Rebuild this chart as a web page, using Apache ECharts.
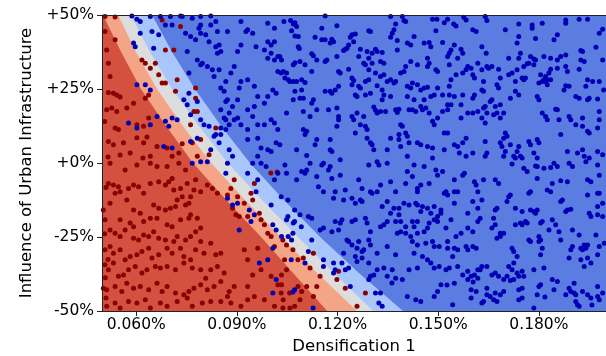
<!DOCTYPE html>
<html><head><meta charset="utf-8">
<script src="https://cdn.jsdelivr.net/npm/echarts@6/dist/echarts.min.js"></script>
<style>html,body{margin:0;padding:0;background:#fff}#c{width:606px;height:356px}</style>
</head><body><div id="c"></div>
<script>
// x values are "Densification 1" in thousandths of a percent (62.4 -> 0.0624%)
const xTicks = [60, 90, 120, 150, 180];
const yTicks = [-50, -25, 0, 25, 50];
const yTickLabels = ['-50%', '-25%', '+0%', '+25%', '+50%'];
const xRange = [49.8, 200];
const yRange = [-50, 50];

// decision-region boundaries (x at each y level)
const boundY = [50, 37.5, 25, 12.5, 0, -12.5, -25, -37.5, -50];
const boundRedSalmon = [50.1, 55.5, 61.4, 68.9, 76.9, 86.8, 97.2, 107.0, 116.9];
const boundSalmonGrey = [54.6, 59.9, 66.2, 73.9, 82.3, 92.4, 103.1, 114.2, 125.8];
const boundGreyLightBlue = [58.4, 64.1, 70.7, 78.7, 87.3, 97.5, 108.2, 119.2, 130.6];
const boundLightBlueBlue = [64.7, 70.7, 77.5, 85.3, 93.9, 104.0, 114.8, 126.7, 139.5];

const redPoints = [
[50.7,49.5],[53.7,49.3],[50.7,44.4],[53.7,41.6],[51.2,38.2],[51.7,33.7],[52.2,29.2],[51.7,23.8],[53.2,23.6],[54.2,23.0],[55.2,22.3],[51.2,18.0],[52.7,18.6],[54.2,17.4],[57.2,18.6],[59.2,20.2],[53.7,11.8],[54.7,11.3],[51.7,7.3],[53.2,6.2],[56.2,6.8],[58.2,3.4],[62.2,6.8],[64.2,2.3],[66.2,5.6],[69.2,5.1],[70.7,2.3],[72.7,3.4],[73.7,6.5],[76.7,6.8],[78.2,2.3],[60.2,12.9],[62.2,12.4],[63.7,15.2],[62.7,21.9],[63.7,23.0],[61.7,34.8],[62.7,33.7],[64.2,32.0],[65.7,33.7],[66.7,29.8],[67.7,27.0],[68.7,27.0],[72.2,28.1],[71.7,24.2],[77.7,25.3],[77.7,21.9],[77.2,17.4],[78.2,17.4],[73.2,46.1],[67.7,48.3],[68.7,38.2],[71.2,38.2],[79.2,7.9],[81.7,2.8],[83.7,11.8],[76.2,12.9],
[60.2,8.5],[63.2,8.8],[51.6,2.0],[55.2,2.7],[62.0,1.7],[50.6,14.0],
[52.2,-0.1],[56.7,-2.4],[60.2,-0.7],[64.2,-0.1],[66.2,-1.2],[69.2,-1.2],[72.7,-0.1],[74.7,-2.4],[51.7,-6.9],[53.2,-7.4],[54.7,-8.0],[53.7,-10.2],[55.2,-9.7],[57.7,-8.6],[59.2,-7.4],[60.7,-8.0],[62.2,-10.2],[64.2,-6.9],[66.7,-6.3],[68.7,-7.4],[69.7,-6.3],[70.7,-5.2],[71.2,-9.1],[73.2,-8.6],[75.2,-6.9],[72.2,-12.5],[73.7,-11.4],[76.2,-11.4],[77.7,-5.7],[77.2,-9.1],[79.2,-9.7],[65.2,-14.2],[66.7,-15.3],[68.7,-15.9],[70.2,-15.3],[71.7,-14.7],[74.7,-14.2],[75.7,-13.6],[76.2,-17.5],[61.2,-17.0],[59.2,-15.9],[57.2,-12.5],[52.2,-13.6],[50.2,-15.9],[50.7,-19.2],[55.2,-19.2],[58.2,-20.3],[59.2,-21.5],[62.2,-19.8],[64.2,-18.7],[66.2,-18.7],[69.2,-20.9],[70.7,-21.5],[73.2,-19.2],[75.7,-18.7],[78.2,-18.7],[79.2,-22.0],[52.2,-22.6],[53.7,-23.7],[55.2,-24.8],[56.7,-22.6],[59.2,-25.4],[60.7,-26.0],[62.2,-24.3],[63.7,-24.8],[65.2,-23.2],[66.7,-25.4],[68.7,-26.0],[71.2,-26.5],[72.2,-24.8],[74.7,-26.0],[76.2,-24.8],[77.7,-23.2],[79.2,-26.5],[50.7,-29.3],[52.2,-28.2],[53.2,-30.5],[55.2,-29.3],[56.7,-32.7],[58.2,-31.6],[60.2,-31.0],[61.7,-29.9],[63.7,-28.8],[64.7,-32.1],[66.7,-31.0],[69.2,-28.8],[70.7,-30.5],[73.2,-28.8],[74.2,-31.6],[76.2,-32.7],[77.7,-29.3],[80.2,-30.5],[82.2,-27.1],[83.7,-31.0],[85.2,-30.5],[50.7,-34.4],[51.7,-36.1],[53.2,-33.8],[54.7,-38.3],[56.2,-37.8],[57.7,-36.1],[59.7,-35.0],[61.7,-37.2],[63.2,-36.1],[65.7,-35.0],[67.2,-35.5],[69.2,-35.0],[71.7,-36.1],[74.2,-33.8],[76.7,-35.5],[79.2,-36.1],[80.7,-38.9],[82.2,-36.1],[84.2,-35.0],[86.2,-37.2],[50.2,-42.3],[51.2,-42.8],[53.7,-41.7],[55.7,-43.4],[57.2,-40.6],[59.2,-42.3],[61.2,-41.7],[63.7,-42.8],[66.2,-40.6],[67.7,-43.4],[69.2,-41.7],[71.7,-43.9],[74.2,-44.5],[75.7,-43.4],[77.2,-42.3],[79.2,-41.1],[81.2,-42.8],[83.2,-41.7],[85.2,-40.0],[87.7,-43.4],[89.2,-41.7],[51.2,-48.4],[53.7,-47.3],[55.2,-49.0],[57.7,-46.8],[60.2,-47.3],[62.7,-46.2],[64.2,-49.0],[67.2,-47.3],[69.2,-48.4],[72.2,-46.8],[75.2,-45.6],[76.7,-48.4],[79.7,-47.3],[82.2,-46.8],[85.2,-46.8],[88.2,-47.3],[91.2,-48.4],[93.2,-46.2],[95.2,-45.1],[98.2,-46.2],[101.2,-48.4],[103.7,-49.0],[107.2,-48.4],[87.2,-45.1],[93.2,-41.7],
[51.0,-8.3],[50.6,-23.9],[51.6,-32.6],[50.8,-38.8],[51.0,-45.6],
[81.2,-7.4],[82.7,-8.6],[84.2,-10.2],[87.2,-10.8],[88.2,-8.6],[89.2,-5.7],[90.2,-11.4],[92.2,-13.6],[94.2,-10.2],[95.2,-6.9],[96.7,-17.0],[97.2,-19.2],[98.2,-20.9],[96.2,-28.8],[99.2,-23.7],[100.2,-24.8],[101.2,-28.2],[103.7,-26.0],[106.7,-29.3],[108.2,-32.7],[104.2,-32.7],[92.2,-29.3],[93.2,-32.7],[94.7,-37.8],[97.2,-36.1],[100.2,-38.3],[102.2,-41.1],[103.2,-43.9],[105.7,-43.9],[108.2,-41.7],[94.7,-12.5],[89.7,-17.5],[90.7,-18.1],[88.7,-15.3],[93.2,-18.1],[102.0,-3.0],[100.1,-3.4],
[104.8,-27.7],[109.8,-32.1],[112.8,-30.5],[111.8,-35.5],[113.8,-41.7],[110.8,-41.7],[114.8,-38.3],[120.3,-36.6],[122.3,-42.3],[119.8,-39.4],[128.3,-43.9],[125.8,-48.4],[105.8,-49.0],[103.3,-41.1],[103.8,-46.2],[108.8,-46.2],[112.8,-45.1],[109.3,-43.4],[104.8,-36.1],[103.3,-37.8]
];

const bluePoints = [
[58.7,49.7],[60.2,48.6],[61.2,47.8],[64.2,49.5],[67.2,49.5],[70.2,49.5],[73.2,49.7],[59.2,40.5],[59.7,39.3],[61.2,43.8],[64.7,44.4],[65.2,38.8],[66.7,43.3],[68.7,46.6],[70.7,46.6],[60.2,26.4],[62.7,26.4],[64.2,24.7],[66.2,15.7],[68.7,14.1],[70.7,15.2],[72.2,14.6],[69.7,12.4],[70.7,5.1],[74.2,21.4],[75.7,23.6],[75.2,19.7],[76.2,16.3],[78.2,20.8],[79.2,14.6],[80.2,12.9],[81.7,12.4],[83.7,9.6],[85.2,11.8],[86.7,14.6],[86.7,11.3],[87.7,12.9],[89.2,14.6],[57.7,13.5],[60.2,11.8],[64.2,12.9],[68.2,5.6],[76.2,7.3],[78.2,8.4],
[73.7,49.5],[76.7,48.9],[79.2,49.5],[82.2,49.7],[83.7,47.8],[84.2,44.4],[87.2,44.4],[74.7,43.8],[76.2,42.7],[77.7,41.6],[79.2,43.8],[78.7,45.5],[80.7,43.3],[82.2,46.6],[79.2,46.6],[81.7,41.0],[83.7,39.3],[84.7,39.9],[85.2,37.7],[84.2,37.1],[79.7,33.7],[78.2,34.8],[79.2,33.2],[81.2,32.6],[82.7,31.5],[84.7,31.5],[88.2,30.4],[89.2,32.6],[90.2,37.7],[91.2,39.9],[92.7,44.4],[94.7,43.8],[95.7,39.3],[98.2,38.2],[99.2,35.4],[100.2,37.1],[101.2,34.8],[102.2,30.9],[102.2,36.0],[103.2,30.4],[99.2,41.0],[100.2,39.9],[101.2,41.0],[101.2,45.5],[99.2,47.2],[91.2,47.8],[93.2,45.0],[75.2,37.7],[75.7,30.4],[83.2,29.2],[85.2,25.3],[86.2,24.2],[86.7,27.5],[86.7,20.8],[88.7,19.1],[90.2,21.4],[90.7,25.3],[91.2,27.5],[93.2,28.1],[95.2,25.9],[96.2,22.5],[98.2,20.2],[99.2,22.5],[100.7,24.7],[101.7,23.6],[85.2,18.0],[86.2,15.2],[87.7,16.9],[87.2,21.4],[90.2,15.2],[91.2,12.9],[93.2,11.3],[94.7,15.7],[96.2,12.9],[98.2,12.9],[100.2,14.6],[101.2,13.5],[102.2,11.3],[93.2,7.9],[96.2,8.4],[97.2,5.1],[99.2,4.5],[100.2,3.9],[101.7,6.8],[96.2,2.3],[88.7,2.3],[87.7,4.5],[84.7,6.8],[85.2,9.6],[83.2,9.0],[82.2,4.5],[93.2,18.0],[95.2,19.1],
[76.7,-0.1],[79.2,0.4],[81.2,0.4],[86.7,-3.5],[87.2,-11.9],[88.7,-14.2],[90.2,-13.6],[93.7,-15.9],[95.2,-17.5],[94.2,-19.8],[95.7,-9.7],[96.2,-5.7],[100.2,-14.2],[100.7,-20.9],[101.7,-22.6],[107.2,-19.8],[106.7,-23.7],[105.2,-18.1],[101.2,-5.7],[103.2,-11.4],[105.2,-12.5],[107.2,-15.9],[109.2,-21.5],[90.7,-22.6],[99.2,-32.7],[100.7,-28.8],[96.7,-33.8],[106.2,-32.7],[101.7,-39.4],[100.7,-43.9],[107.2,-42.8],[93.2,-3.5],[94.7,-0.1],[97.2,-0.1],[98.7,-1.2],[87.2,-0.1],[102.2,-3.5],
[116.3,49.7],[135.8,49.5],[139.3,49.5],[139.8,48.1],[148.3,48.6],[149.6,48.6],[151.8,47.4],[152.8,48.6],[154.6,47.0],[155.3,46.3],[157.6,49.2],[158.3,48.3],[104.0,47.8],[106.0,48.1],[106.8,47.0],[107.3,47.4],[107.8,46.1],[106.3,44.7],[107.3,42.9],[108.3,42.7],[115.3,45.5],[119.8,46.4],[129.3,44.7],[129.8,44.4],[137.3,47.0],[136.8,45.0],[140.3,47.8],[149.3,44.7],[160.3,45.0],[161.3,44.4],[113.3,42.5],[115.3,41.6],[116.3,41.6],[117.8,40.5],[118.3,41.8],[118.8,41.0],[124.3,43.3],[125.3,43.6],[123.8,42.5],[124.8,41.0],[123.3,39.9],[122.8,38.8],[122.3,38.4],[121.8,38.0],[126.8,38.4],[128.8,37.7],[131.3,38.4],[133.3,37.3],[136.3,43.8],[135.8,42.5],[137.8,41.4],[137.8,38.2],[140.8,40.5],[141.8,39.9],[142.8,42.7],[145.8,40.5],[147.3,40.7],[147.8,39.3],[151.3,40.7],[153.8,38.2],[153.3,37.1],[156.8,38.4],[157.3,37.1],[154.8,39.9],[108.3,39.3],[108.6,38.7],[112.3,36.9],[112.8,36.2],[116.8,34.8],[119.8,36.0],[126.3,36.0],[129.3,35.4],[130.3,37.1],[131.8,37.7],[132.8,34.3],[133.8,33.7],[102.8,36.0],[103.3,34.8],[103.8,30.9],[104.8,30.4],[107.3,33.9],[106.8,33.2],[108.8,34.3],[110.3,33.2],[112.3,30.9],[113.8,34.8],[116.3,34.3],[120.3,30.9],[120.8,30.4],[123.3,31.7],[124.3,28.7],[124.8,27.9],[127.8,33.7],[128.3,33.2],[129.3,31.5],[130.3,33.7],[131.3,30.4],[132.8,29.2],[133.8,29.8],[134.8,27.5],[135.8,28.1],[136.8,27.0],[138.8,30.4],[139.8,30.9],[140.3,32.6],[141.8,34.3],[143.8,33.2],[146.8,32.6],[147.3,33.7],[149.3,31.5],[149.8,30.9],[146.8,35.4],[152.8,36.0],[153.3,33.2],[155.8,35.4],[157.3,30.4],[158.3,31.5],[158.8,32.6],[159.8,32.0],[160.3,29.8],[160.8,28.7],[161.8,33.7],[155.3,29.8],[153.8,28.1],[153.3,25.9],[151.3,23.0],[149.8,25.3],[104.3,28.7],[105.3,28.1],[105.8,27.5],[106.8,27.5],[107.8,27.5],[109.3,28.1],[110.3,27.2],[107.3,24.2],[109.3,24.7],[108.8,21.9],[109.8,21.9],[106.8,21.4],[112.8,21.4],[112.3,20.2],[116.3,24.2],[117.8,24.2],[118.3,23.6],[119.3,24.7],[120.3,25.9],[124.3,26.4],[126.3,25.9],[126.8,25.3],[128.3,27.5],[129.3,28.1],[131.8,26.1],[133.3,24.7],[133.8,23.0],[133.3,21.4],[135.8,22.5],[137.3,27.5],[140.8,25.9],[141.8,25.3],[142.3,27.0],[143.8,26.4],[144.8,24.7],[145.8,25.3],[146.8,25.6],[147.8,22.5],[148.8,23.0],[152.8,19.7],[153.3,23.0],[154.8,22.5],[157.3,23.0],[156.8,19.7],[160.3,21.9],[160.8,23.0],[128.3,23.0],[129.8,23.6],[125.3,23.0],[125.8,22.5],[140.8,22.5],[142.8,21.4],[144.8,19.1],[145.3,18.0],[142.3,18.0],[145.8,21.4],[104.8,16.9],[109.8,17.4],[111.8,15.7],[113.8,18.0],[117.3,18.0],[119.8,18.6],[120.3,15.7],[120.3,14.6],[124.3,15.7],[124.8,14.6],[125.8,16.9],[127.8,15.7],[128.3,12.4],[130.8,18.9],[131.3,17.8],[131.8,16.9],[132.8,17.4],[134.3,17.4],[137.3,18.0],[137.8,17.1],[138.3,18.2],[141.3,18.0],[143.3,17.4],[146.3,18.6],[147.3,16.9],[149.8,15.2],[151.3,17.4],[152.8,18.0],[153.8,19.7],[156.8,15.2],[158.8,16.9],[160.3,16.9],[161.8,17.4],[148.3,14.1],[148.8,12.9],[138.8,12.9],[139.3,12.4],[126.8,12.9],[109.8,11.3],[110.8,10.7],[110.3,9.6],[119.8,12.4],[128.8,11.3],[138.3,9.6],[140.3,10.1],[140.8,9.0],[138.3,7.9],[135.8,8.4],[128.8,8.4],[129.8,6.8],[130.3,6.2],[125.3,10.1],[113.8,7.9],[113.3,6.2],[117.8,7.9],[102.8,6.2],[107.8,4.5],[117.8,4.5],[118.3,3.9],[130.8,4.5],[134.8,4.5],[138.8,5.6],[141.3,6.8],[143.8,6.8],[144.8,6.2],[146.8,5.6],[148.3,5.1],[151.8,10.1],[152.8,10.1],[151.8,4.5],[154.8,6.2],[155.8,5.6],[157.3,6.8],[158.3,8.4],[156.3,3.4],[158.3,2.3],[160.3,3.4],[148.3,1.7],[140.8,2.3],[120.8,1.1],[110.8,2.5],
[104.3,-0.7],[104.8,-3.5],[107.8,-5.7],[109.3,-2.9],[110.3,-3.5],[110.8,-2.4],[111.8,-0.1],[113.8,-4.6],[114.3,-8.0],[115.3,-0.7],[115.8,-0.1],[117.3,-2.4],[117.8,-1.2],[118.3,-5.2],[120.8,-4.1],[126.3,-5.7],[127.3,-8.6],[129.3,-0.7],[129.8,-9.7],[131.8,-9.7],[131.8,0.4],[132.3,-0.7],[132.8,-7.4],[134.8,-0.1],[135.8,-6.3],[137.3,-9.7],[140.3,-6.9],[140.8,-2.9],[142.3,-4.6],[142.8,-0.7],[143.8,-9.7],[143.8,-8.6],[144.8,-7.4],[145.8,-1.2],[147.3,-6.9],[149.3,-2.4],[149.8,-4.1],[151.3,-2.9],[152.3,-9.7],[151.8,-10.2],[152.8,-10.8],[154.8,-9.7],[154.8,-5.7],[157.3,-4.1],[157.8,-3.5],[160.8,-6.3],[161.3,-7.4],[161.8,-9.7],[115.8,-9.7],[118.8,-11.9],[119.3,-9.7],[121.8,-12.5],[122.3,-9.1],[124.3,-11.9],[125.3,-13.6],[126.8,-12.5],[127.3,-13.0],[130.3,-10.2],[133.3,-14.7],[134.8,-13.0],[136.8,-15.3],[138.3,-15.3],[139.8,-13.6],[141.3,-14.2],[143.3,-13.6],[143.8,-14.2],[144.8,-16.4],[145.3,-14.7],[146.8,-15.3],[147.8,-17.0],[148.8,-14.7],[149.8,-18.1],[150.8,-15.9],[150.8,-17.0],[153.8,-19.2],[154.8,-13.6],[155.8,-9.7],[158.8,-17.0],[160.3,-13.0],[161.8,-15.3],[108.8,-17.5],[111.3,-18.1],[112.3,-18.7],[119.3,-19.8],[120.8,-20.3],[121.3,-19.2],[124.3,-19.8],[125.3,-19.2],[128.3,-18.7],[128.8,-20.3],[129.8,-23.2],[132.8,-21.5],[133.8,-20.9],[134.8,-19.8],[135.8,-17.0],[137.3,-19.8],[138.3,-17.5],[138.8,-19.8],[140.3,-21.5],[142.3,-19.8],[143.8,-19.8],[142.8,-21.5],[146.8,-22.0],[147.3,-20.3],[148.8,-19.2],[149.8,-19.8],[152.3,-22.0],[155.3,-24.8],[156.8,-23.7],[158.8,-22.0],[160.3,-23.2],[161.8,-19.8],[104.8,-19.2],[106.8,-20.3],[114.8,-22.6],[115.8,-22.0],[118.3,-23.2],[120.3,-22.6],[122.8,-26.0],[123.3,-26.5],[124.3,-27.7],[125.8,-28.8],[126.3,-26.5],[127.3,-29.9],[127.8,-29.3],[129.3,-26.0],[129.8,-27.7],[131.8,-30.5],[134.8,-28.2],[137.8,-23.7],[138.8,-23.2],[140.3,-23.7],[141.8,-24.8],[142.3,-26.5],[143.8,-23.7],[145.8,-23.2],[143.8,-27.7],[146.3,-27.1],[148.3,-26.5],[148.8,-28.2],[150.3,-28.2],[152.8,-26.5],[152.8,-28.8],[154.3,-31.6],[154.8,-28.8],[155.8,-29.3],[158.3,-28.2],[158.8,-29.3],[160.3,-28.2],[161.3,-28.8],[137.3,-31.0],[142.8,-30.5],[145.3,-31.6],[146.8,-32.7],[147.8,-33.8],[148.8,-35.5],[150.3,-35.0],[152.3,-36.1],[153.3,-35.5],[155.8,-35.0],[157.3,-37.8],[158.8,-36.6],[159.8,-38.3],[160.8,-37.8],[161.8,-36.1],[143.8,-35.5],[136.3,-36.1],[133.8,-35.5],[131.8,-36.1],[130.8,-37.8],[129.8,-38.3],[134.8,-38.3],[125.8,-33.3],[127.3,-32.1],[129.3,-33.8],[125.3,-31.6],[121.8,-30.5],[121.3,-33.8],[118.8,-33.8],[115.8,-32.7],[119.3,-36.1],[122.3,-36.1],[123.3,-35.5],[129.3,-39.4],[137.3,-38.9],[139.3,-39.4],[141.3,-36.1],[149.8,-43.4],[150.8,-41.1],[154.8,-40.6],[158.8,-39.4],[159.8,-42.8],[161.3,-43.4],[161.8,-38.9],[159.8,-45.6],[154.3,-47.9],[148.8,-45.1],[144.8,-46.8],[143.3,-46.2],[140.8,-45.1],[132.8,-43.9],[131.3,-43.9],[132.3,-47.3],[133.3,-48.4],[123.8,-41.7],[112.3,-26.0],[111.3,-29.9],[110.3,-33.8],[115.8,-35.0],[118.8,-37.2],[105.3,-24.8],[106.3,-26.0],[103.3,-24.8],
[106.7,-43.6],[112.7,-49.0],[136.2,-40.5],[152.6,-41.2],[160.4,-40.2],[181.8,-45.3],[195.8,-48.0],
[164.0,49.5],[164.5,48.1],[170.0,45.0],[174.0,47.0],[178.0,46.6],[178.0,45.5],[181.0,47.2],[188.0,47.2],[188.0,48.3],[192.0,48.6],[194.5,48.6],[198.0,43.8],[199.0,45.2],[173.5,40.5],[174.0,42.7],[179.0,42.1],[185.5,43.3],[184.5,41.6],[163.0,39.3],[164.3,37.1],[171.0,35.4],[174.0,35.4],[174.5,37.1],[177.5,36.0],[178.5,35.1],[179.0,34.8],[181.5,36.0],[183.5,35.4],[185.5,34.8],[186.5,36.0],[188.0,36.5],[192.5,38.0],[193.0,37.7],[192.5,34.8],[193.5,34.3],[197.0,39.1],[199.0,34.8],[163.0,31.5],[164.5,32.6],[165.0,32.0],[166.0,32.6],[168.0,31.7],[168.5,28.7],[171.0,29.8],[172.0,30.4],[173.5,31.5],[175.5,32.6],[176.5,33.5],[177.0,33.7],[178.5,33.2],[180.5,29.8],[182.0,29.2],[182.5,28.1],[183.0,30.4],[183.5,31.7],[185.5,32.0],[188.0,32.6],[188.5,30.9],[192.0,31.7],[194.5,28.1],[196.0,27.5],[194.0,25.9],[163.5,27.5],[167.5,26.4],[168.0,25.3],[173.0,27.5],[175.0,28.7],[175.5,28.1],[176.0,28.7],[180.0,27.0],[181.0,27.5],[181.5,28.1],[182.0,27.5],[182.5,26.4],[183.5,28.1],[187.5,24.7],[188.0,26.1],[189.0,25.9],[191.0,22.5],[192.0,21.9],[194.5,21.4],[195.0,21.9],[197.5,21.6],[199.3,24.7],[198.0,27.5],[163.0,24.7],[163.5,24.2],[168.5,19.7],[171.5,21.9],[173.0,24.2],[174.0,23.0],[179.5,22.5],[180.0,21.4],[165.5,20.8],[166.0,21.4],[163.5,18.6],[164.0,19.1],[167.0,19.1],[167.5,16.9],[169.5,16.9],[164.5,16.9],[163.0,15.2],[164.0,13.5],[166.5,16.3],[168.5,15.2],[181.0,16.9],[182.0,15.7],[182.5,14.6],[185.0,18.2],[185.5,18.0],[186.0,14.6],[189.0,15.7],[189.5,14.6],[191.0,12.9],[193.0,12.4],[193.0,15.2],[194.5,10.7],[195.0,10.1],[197.5,11.8],[198.0,14.6],[198.0,17.4],[186.5,9.6],[170.0,10.1],[170.5,9.0],[169.5,8.4],[168.5,6.8],[164.0,7.3],[171.5,6.2],[174.0,5.6],[173.5,3.9],[177.0,7.3],[177.5,6.2],[179.5,7.9],[180.0,6.8],[174.5,2.3],[175.0,1.7],[172.5,2.3],[173.0,1.7],[169.0,5.6],[164.5,3.4],[164.0,2.3],[169.5,2.3],[188.5,3.9],[191.5,3.4],[193.0,4.5],[193.5,2.3],[195.0,1.7],[197.5,3.9],[199.0,2.8],[178.5,3.4],[179.5,1.7],[170.0,3.9],
[172.0,-0.3],[175.5,-1.8],[176.5,-2.9],[179.0,-1.0],[179.5,-1.2],[181.5,-1.8],[183.5,-1.5],[184.5,-0.1],[185.5,-1.2],[189.0,-0.1],[190.0,-1.2],[194.0,0.4],[197.5,-0.7],[198.0,-4.1],[163.5,-5.7],[167.0,-5.7],[168.0,-6.9],[179.5,-5.2],[182.5,-9.1],[183.5,-9.7],[184.0,-6.9],[186.5,-6.0],[188.5,-6.3],[194.5,-5.7],[195.5,-6.3],[197.5,-10.2],[198.0,-10.2],[199.0,-13.6],[163.0,-12.5],[166.5,-18.7],[167.0,-15.9],[167.5,-15.3],[170.5,-13.0],[171.0,-11.4],[171.5,-10.8],[173.0,-15.3],[175.0,-16.4],[177.0,-10.2],[177.5,-9.7],[177.5,-15.9],[178.5,-16.4],[179.0,-17.0],[179.5,-15.9],[186.5,-13.0],[187.0,-12.5],[188.0,-16.4],[188.5,-15.9],[189.5,-15.6],[194.5,-10.8],[195.0,-17.0],[195.5,-18.1],[197.5,-14.7],[197.5,-17.5],[199.0,-18.1],[162.5,-18.7],[166.0,-22.0],[167.0,-20.9],[168.5,-23.7],[169.5,-23.7],[173.0,-20.9],[174.5,-20.3],[175.0,-20.9],[176.0,-19.8],[176.5,-20.3],[180.5,-20.3],[181.0,-19.8],[183.0,-22.6],[184.0,-19.2],[185.0,-20.9],[186.0,-23.2],[190.0,-22.6],[192.0,-24.3],[192.5,-28.8],[193.0,-29.3],[193.5,-27.7],[194.0,-28.8],[194.5,-27.7],[197.0,-24.3],[198.0,-28.2],[199.5,-27.1],[167.5,-25.4],[168.5,-24.8],[172.0,-28.8],[172.5,-29.9],[173.5,-31.6],[177.0,-26.0],[177.5,-26.5],[180.0,-24.8],[180.0,-26.5],[180.5,-26.0],[181.0,-28.8],[180.5,-31.0],[186.5,-26.0],[190.0,-28.2],[189.5,-29.3],[189.0,-32.1],[192.5,-32.7],[194.5,-32.1],[195.5,-33.8],[197.5,-31.0],[193.5,-35.0],[162.5,-36.1],[163.0,-35.0],[164.5,-35.0],[166.0,-37.8],[167.0,-37.2],[168.0,-38.3],[169.5,-39.4],[170.5,-38.3],[171.5,-39.7],[172.0,-36.1],[173.5,-37.2],[174.0,-38.3],[175.0,-36.6],[175.5,-38.3],[178.5,-36.1],[180.0,-41.7],[180.5,-41.1],[181.5,-35.5],[184.0,-39.4],[185.5,-40.0],[188.0,-44.5],[189.0,-42.3],[189.5,-43.4],[190.5,-43.9],[191.0,-44.5],[190.5,-40.6],[193.0,-43.4],[194.5,-44.5],[195.5,-45.6],[197.5,-45.1],[198.0,-46.2],[199.0,-43.9],[197.5,-41.7],[191.5,-47.9],[192.0,-48.4],[191.0,-46.8],[174.0,-42.8],[175.0,-42.3],[169.5,-43.4],[168.5,-44.5],[167.0,-43.9],[165.5,-45.1],[164.5,-44.5],[166.5,-46.2],[167.5,-46.8],[163.5,-46.8],[175.0,-45.6],[174.0,-46.2],[179.5,-44.5],[172.5,-39.4],[171.0,-35.0],[172.5,-33.8],[164.5,-42.3],[163.0,-47.3],[178.5,-49.0],[184.5,-42.8]
];

const regionColors = {
  blue: '#5b7ce0',
  lightBlue: '#a9c6fc',
  grey: '#dddddd',
  salmon: '#f4a487',
  red: '#d4503f'
};
const regions = [
  { bound: null, color: regionColors.blue },
  { bound: boundLightBlueBlue, color: regionColors.lightBlue },
  { bound: boundGreyLightBlue, color: regionColors.grey },
  { bound: boundSalmonGrey, color: regionColors.salmon },
  { bound: boundRedSalmon, color: regionColors.red }
];

function renderRegion(params, api) {
  const r = regions[params.dataIndex];
  const pts = [];
  if (r.bound) {
    for (let i = 0; i < boundY.length; i++) pts.push(api.coord([r.bound[i], boundY[i]]));
    pts.push(api.coord([xRange[0], yRange[0]]));
    pts.push(api.coord([xRange[0], yRange[1]]));
  } else {
    pts.push(api.coord([xRange[0], yRange[1]]), api.coord([xRange[1], yRange[1]]),
             api.coord([xRange[1], yRange[0]]), api.coord([xRange[0], yRange[0]]));
  }
  return { type: 'polygon', shape: { points: pts }, style: { fill: r.color }, silent: true };
}

const font = 'DejaVu Sans';
const textColor = '#000';
const chart = echarts.init(document.getElementById('c'), null, { renderer: 'canvas' });
chart.setOption({
  animation: false,
  backgroundColor: '#ffffff',
  grid: { left: 102, right: 0, top: 15, bottom: 45, containLabel: false, outerBoundsMode: 'none' },
  xAxis: [{
    type: 'value', min: xRange[0], max: xRange[1], position: 'bottom', z: 10,
    name: 'Densification 1', nameLocation: 'middle', nameGap: 27,
    nameTextStyle: { fontSize: 16.5, color: textColor, fontFamily: font },
    axisLine: { show: true, onZero: false, lineStyle: { color: '#222', width: 1 } },
    axisTick: { show: true, length: 5, customValues: xTicks, lineStyle: { color: '#222' } },
    axisLabel: { customValues: xTicks, margin: 6, fontSize: 15.5, color: textColor, fontFamily: font,
      formatter: v => (v / 1000).toFixed(3) + '%' },
    splitLine: { show: false }
  }, {
    type: 'value', min: xRange[0], max: xRange[1], position: 'top', z: 10,
    axisLine: { show: true, onZero: false, lineStyle: { color: '#222', width: 1 } },
    axisTick: { show: false }, axisLabel: { show: false }, splitLine: { show: false }
  }],
  yAxis: [{
    type: 'value', min: yRange[0], max: yRange[1], interval: 25, position: 'left', z: 10,
    name: 'Influence of Urban Infrastructure', nameLocation: 'middle', nameGap: 65,
    nameTextStyle: { fontSize: 16.5, color: textColor, fontFamily: font },
    axisLine: { show: true, onZero: false, lineStyle: { color: '#222', width: 1 } },
    axisTick: { show: true, length: 5, lineStyle: { color: '#222' } },
    axisLabel: { margin: 8, fontSize: 15.5, color: textColor, fontFamily: font,
      formatter: v => yTickLabels[yTicks.indexOf(v)] },
    splitLine: { show: false }
  }],
  series: [{
    type: 'custom', coordinateSystem: 'cartesian2d', renderItem: renderRegion, clip: true,
    data: regions.map((r, i) => [xRange[0], yRange[0], i]), z: 1, silent: true
  }, {
    type: 'scatter', data: redPoints, symbolSize: 5, z: 3, silent: true,
    itemStyle: { color: '#8b0000', borderWidth: 0, opacity: 1 }
  }, {
    type: 'scatter', data: bluePoints, symbolSize: 5, z: 3, silent: true,
    itemStyle: { color: '#0000b4', borderWidth: 0, opacity: 1 }
  }]
});
</script>
</body></html>
